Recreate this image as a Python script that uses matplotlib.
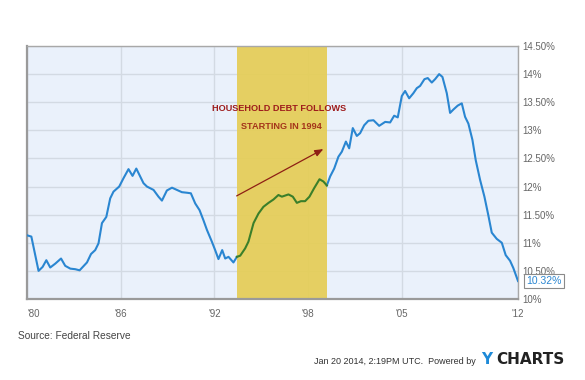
import matplotlib
matplotlib.use("Agg")
import matplotlib.pyplot as plt

plt.rcParams['font.family'] = ['Liberation Sans', 'DejaVu Sans']

# household debt service ratio (year, percent)
years = [1980.04, 1980.29, 1980.77, 1981.04, 1981.29, 1981.55, 1981.89, 1982.27, 1982.55, 1982.89,
         1983.22, 1983.51, 1984.0, 1984.27, 1984.55, 1984.77, 1985.0, 1985.29, 1985.55, 1985.77,
         1986.15, 1986.44, 1986.77, 1987.04, 1987.29, 1987.77, 1988.0, 1988.44, 1988.77, 1989.0,
         1989.33, 1989.67, 1990.0, 1990.33, 1990.67, 1990.93, 1991.22, 1991.51, 1991.77, 1992.0,
         1992.33, 1992.55, 1992.77, 1993.02, 1993.22, 1993.44, 1993.77, 1994.0, 1994.22, 1994.55,
         1994.77, 1995.11, 1995.44, 1995.77, 1996.11, 1996.44, 1996.77, 1997.0, 1997.44, 1997.73,
         1998.0, 1998.27, 1998.55, 1998.84, 1999.15, 1999.51, 1999.77, 2000.0, 2000.22, 2000.49,
         2000.77, 2001.0, 2001.27, 2001.49, 2001.73, 2002.0, 2002.22, 2002.49, 2002.77, 2003.11,
         2003.49, 2003.89, 2004.22, 2004.49, 2004.73, 2005.0, 2005.22, 2005.49, 2005.77, 2006.0,
         2006.22, 2006.51, 2006.73, 2007.0, 2007.22, 2007.49, 2007.71, 2008.0, 2008.22, 2008.44,
         2008.73, 2009.0, 2009.22, 2009.44, 2009.71, 2009.93, 2010.22, 2010.51, 2010.77, 2011.0,
         2011.33, 2011.67, 2011.93, 2012.22, 2012.44, 2012.75]
ratio = [11.13, 11.11, 10.50, 10.57, 10.69, 10.56, 10.63, 10.72, 10.59, 10.54,
         10.53, 10.51, 10.65, 10.80, 10.87, 10.99, 11.35, 11.46, 11.79, 11.91,
         12.00, 12.15, 12.31, 12.19, 12.32, 12.06, 12.00, 11.94, 11.82, 11.75,
         11.93, 11.98, 11.94, 11.90, 11.89, 11.88, 11.70, 11.58, 11.40, 11.23,
         11.02, 10.87, 10.71, 10.87, 10.72, 10.75, 10.65, 10.75, 10.77, 10.90,
         11.02, 11.35, 11.52, 11.64, 11.71, 11.77, 11.85, 11.82, 11.86, 11.82,
         11.71, 11.74, 11.74, 11.82, 11.97, 12.13, 12.09, 12.02, 12.18, 12.32,
         12.53, 12.62, 12.80, 12.68, 13.04, 12.90, 12.95, 13.09, 13.17, 13.18,
         13.08, 13.15, 13.14, 13.26, 13.23, 13.61, 13.70, 13.57, 13.66, 13.75,
         13.79, 13.91, 13.93, 13.85, 13.91, 14.00, 13.95, 13.66, 13.31, 13.37,
         13.44, 13.48, 13.24, 13.12, 12.83, 12.47, 12.12, 11.82, 11.49, 11.18,
         11.07, 11.00, 10.78, 10.68, 10.55, 10.32]

highlight = (1994.0, 2000.0)
x_ticks = [1980, 1986.25, 1992.5, 1998.75, 2005, 2012.75]
x_labels = ["'80", "'86", "'92", "'98", "'05", "'12"]
y_ticks = [10, 10.5, 11, 11.5, 12, 12.5, 13, 13.5, 14, 14.5]
y_labels = ["10%", "10.50%", "11%", "11.50%", "12%", "12.50%", "13%", "13.50%", "14%", "14.50%"]

W, H = 585, 380
fig = plt.figure(figsize=(W / 100, H / 100), dpi=100)
fig.patch.set_facecolor('white')
ax = fig.add_axes([27 / W, 1 - 299 / H, (518 - 27) / W, (299 - 46) / H])
ax.set_facecolor('#EAF1FB')

# shaded period
ax.axvspan(highlight[0], highlight[1], color='#E5CD55', alpha=0.92, zorder=1, lw=0)

# split line: blue outside, green inside the highlight window
blue_c, green_c = '#2A86D1', '#3B7F2A'
pre = [(x, y) for x, y in zip(years, ratio) if x <= highlight[0]]
mid = [(x, y) for x, y in zip(years, ratio) if highlight[0] <= x <= highlight[1]]
post = [(x, y) for x, y in zip(years, ratio) if x >= highlight[1]]
for seg, c in ((pre, blue_c), (post, blue_c)):
    ax.plot(*zip(*seg), color=c, lw=1.5, zorder=3, solid_joinstyle='round')
# close the gap from the last pre point into the green run
ax.plot([pre[-1][0]] + [p[0] for p in mid], [pre[-1][1]] + [p[1] for p in mid],
        color=green_c, lw=1.5, zorder=3, solid_joinstyle='round')

ax.set_xlim(1980, 2012.75)
ax.set_ylim(10, 14.5)

ax.set_xticks(x_ticks)
ax.set_xticklabels(x_labels)
ax.set_yticks(y_ticks)
ax.set_yticklabels(y_labels)
ax.yaxis.tick_right()
ax.tick_params(axis='both', length=0, labelsize=7, colors='#666666')
ax.tick_params(axis='x', pad=7)
ax.tick_params(axis='y', pad=3)
ax.get_xticklabels()[0].set_horizontalalignment('left')

ax.set_axisbelow(True)
ax.grid(True, color='#D3DAE3', lw=1)

for side in ['left', 'bottom']:
    ax.spines[side].set_color('#9A9A9A')
    ax.spines[side].set_linewidth(1.6)
for side in ['top', 'right']:
    ax.spines[side].set_color('#A8A8A8')
    ax.spines[side].set_linewidth(1.0)

# annotation
ax.text(1996.82, 13.38, 'HOUSEHOLD DEBT FOLLOWS', color='#9E1C1C', fontsize=6.6,
        fontweight='bold', ha='center', va='center', zorder=4)
ax.text(1996.95, 13.06, 'STARTING IN 1994', color='#A4341A', fontsize=6.6,
        fontweight='bold', ha='center', va='center', zorder=4)
ax.annotate('', xy=(1999.93, 12.69), xytext=(1993.82, 11.81),
            arrowprops=dict(arrowstyle='-|>,head_length=0.5,head_width=0.2',
                            color='#8E1F14', lw=0.9), zorder=4)

# last value tag
ax.annotate('%.2f%%' % ratio[-1], xy=(years[-1], ratio[-1]), xytext=(6, 0),
            textcoords='offset points', ha='left', va='center', fontsize=7.5,
            color='#2A86D1', annotation_clip=False, zorder=5,
            bbox=dict(boxstyle='square,pad=0.2', fc='white', ec='#8A8A8A', lw=0.8))

# footer text
fig.text(18 / W, 1 - 336 / H, 'Source: Federal Reserve', fontsize=7.3,
         color='#444444', va='center', ha='left')
fig.text(476 / W, 1 - 361 / H, 'Jan 20 2014, 2:19PM UTC.  Powered by', fontsize=6.5,
         color='#333333', va='center', ha='right')
fig.text(481 / W, 1 - 360 / H, 'Y', fontsize=11, fontweight='bold', color='#1E8AD8',
         va='center', ha='left', family='DejaVu Sans')
fig.text(496 / W, 1 - 360 / H, 'CHARTS', fontsize=11, fontweight='bold', color='#222222',
         va='center', ha='left', family='DejaVu Sans')

fig.savefig('out.png', dpi=100)
